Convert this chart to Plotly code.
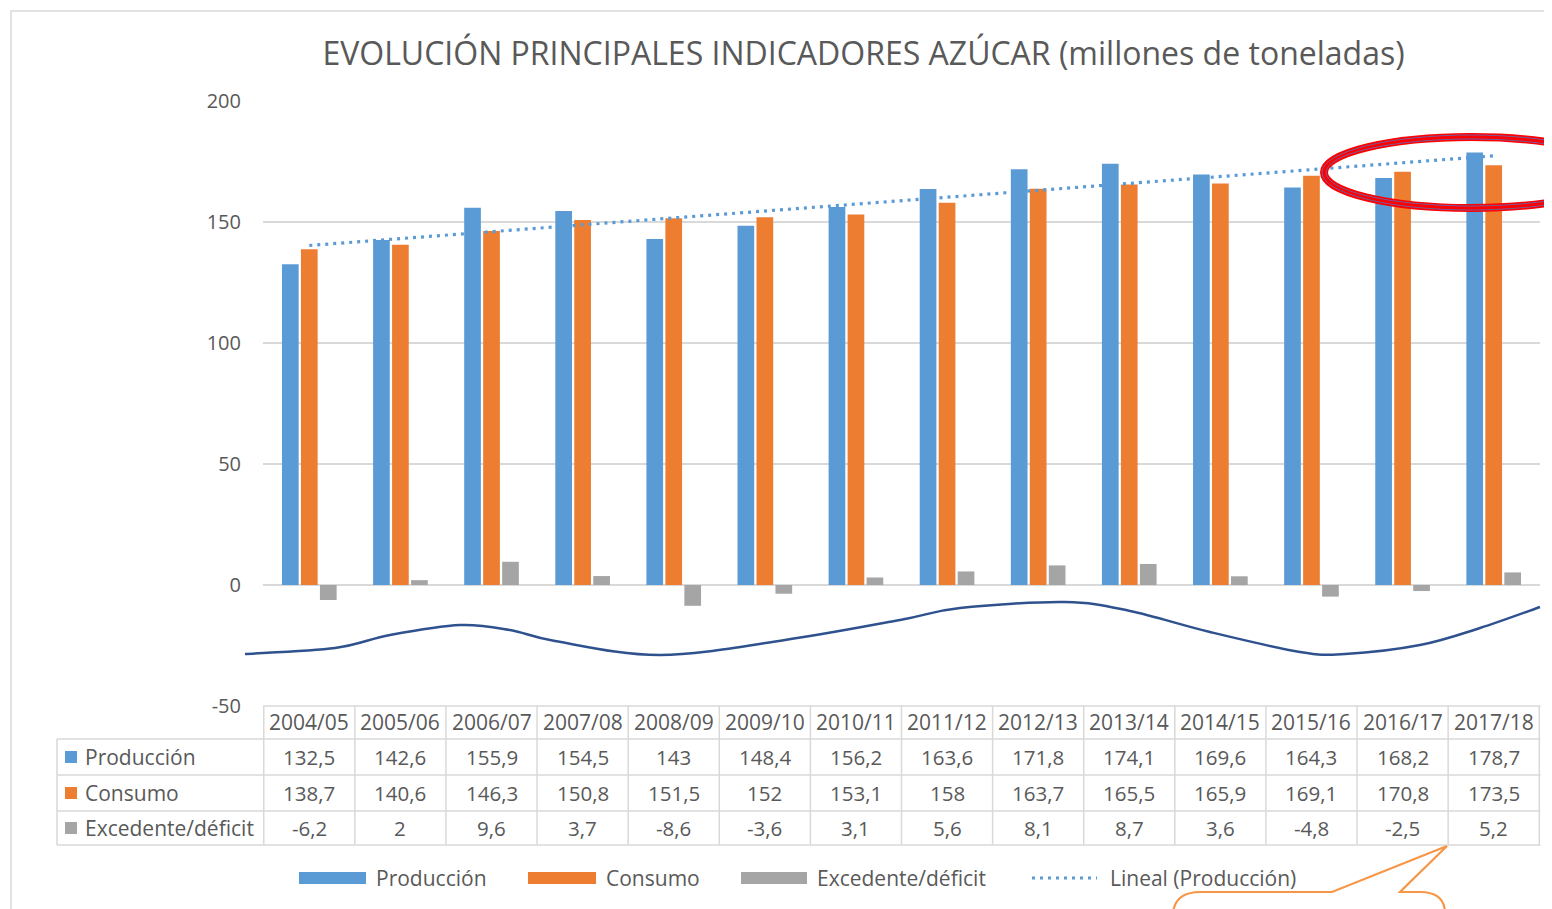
import numpy as np
import plotly.graph_objects as go

# ---------------- data ----------------
categories = ["2004/05", "2005/06", "2006/07", "2007/08", "2008/09", "2009/10", "2010/11",
              "2011/12", "2012/13", "2013/14", "2014/15", "2015/16", "2016/17", "2017/18"]
produccion = [132.5, 142.6, 155.9, 154.5, 143, 148.4, 156.2, 163.6, 171.8, 174.1, 169.6, 164.3, 168.2, 178.7]
consumo = [138.7, 140.6, 146.3, 150.8, 151.5, 152, 153.1, 158, 163.7, 165.5, 165.9, 169.1, 170.8, 173.5]
excedente = [-6.2, 2, 9.6, 3.7, -8.6, -3.6, 3.1, 5.6, 8.1, 8.7, 3.6, -4.8, -2.5, 5.2]
series_names = ["Producción", "Consumo", "Excedente/déficit"]
trend_name = "Lineal (Producción)"
title_text = "EVOLUCIÓN PRINCIPALES INDICADORES AZÚCAR (millones de toneladas)"
y_ticks = [200, 150, 100, 50, 0, -50]
y_ticktext = ["200", "150", "100", "50", "0", "-50"]

# ---------------- style ----------------
OFF = 8  # page body margin
W, H = 1552 - OFF, 909 - OFF
ML, MT = 263 - OFF, 101 - OFF
MR = W - (1540 - OFF)
MB = H - (706 - OFF)
PW, PH = W - ML - MR, H - MT - MB
BLUE, ORANGE, GRAY = "#5B9BD5", "#ED7D31", "#A5A5A5"
TXT = "#595959"
GRID = "#D9D9D9"
FONT = "Open Sans"


def px(x):
    return (x - OFF - ML) / PW


def py(y):
    return (H - MB - (y - OFF)) / PH


def fmt(v):
    return ("%g" % v).replace(".", ",")


fig = go.Figure()
for name, vals, col in zip(series_names, [produccion, consumo, excedente], [BLUE, ORANGE, GRAY]):
    fig.add_trace(go.Bar(x=categories, y=vals, name=name, marker=dict(color=col, line=dict(width=0)),
                         showlegend=False))

# linear trend (Excel "Lineal") fitted to production
idx = np.arange(1, len(categories) + 1)
slope, inter = np.polyfit(idx, produccion, 1)
trend = slope * idx + inter
fig.add_trace(go.Scatter(x=categories, y=trend, mode="lines", name=trend_name, showlegend=False,
                         line=dict(color=BLUE, width=3.2, dash="3px,5px")))

shapes = []
annotations = []

# outer chart border
shapes.append(dict(type="rect", xref="paper", yref="paper", x0=px(11), x1=px(1600), y0=py(11), y1=py(960),
                   line=dict(color=GRID, width=1.5), layer="below"))

# ---------------- data table ----------------
row_y = [722, 757, 793, 828]
for yy, x0 in [(706, 263), (739, 57), (775, 57), (811, 57), (845, 57)]:
    shapes.append(dict(type="line", xref="paper", yref="paper", x0=px(x0), x1=px(1540.5), y0=py(yy), y1=py(yy),
                       line=dict(color=GRID, width=1.5)))
shapes.append(dict(type="line", xref="paper", yref="paper", x0=px(57), x1=px(57), y0=py(739), y1=py(845),
                   line=dict(color=GRID, width=1.5)))
for k in range(len(categories) + 1):
    shapes.append(dict(type="line", xref="x", yref="paper", x0=k - 0.5, x1=k - 0.5, y0=py(706), y1=py(845),
                       line=dict(color=GRID, width=1.5)))

for c in categories:
    annotations.append(dict(x=c, xref="x", y=py(row_y[0]), yref="paper", text=c, showarrow=False,
                            font=dict(family=FONT, size=21, color=TXT), xanchor="center", yanchor="middle"))
for r, (name, vals, col) in enumerate(zip(series_names, [produccion, consumo, excedente], [BLUE, ORANGE, GRAY])):
    yy = row_y[r + 1]
    shapes.append(dict(type="rect", xref="paper", yref="paper", x0=px(65), x1=px(77), y0=py(yy - 6),
                       y1=py(yy + 6), fillcolor=col, line=dict(width=0)))
    annotations.append(dict(x=px(83), xref="paper", y=py(yy), yref="paper", text=name, showarrow=False,
                            font=dict(family=FONT, size=21, color=TXT), xanchor="left", yanchor="middle"))
    for c, v in zip(categories, vals):
        annotations.append(dict(x=c, xref="x", y=py(yy), yref="paper", text=fmt(v), showarrow=False,
                                font=dict(family=FONT, size=20.5, color=TXT), xanchor="center", yanchor="middle"))

# ---------------- legend (custom) ----------------
LY = 878
leg = [(series_names[0], BLUE, 299, 366, 374), (series_names[1], ORANGE, 528, 596, 604),
       (series_names[2], GRAY, 741, 807, 815)]
for name, col, x0, x1, xt in leg:
    shapes.append(dict(type="rect", xref="paper", yref="paper", x0=px(x0), x1=px(x1), y0=py(LY - 6),
                       y1=py(LY + 6), fillcolor=col, line=dict(width=0)))
    annotations.append(dict(x=px(xt), xref="paper", y=py(LY), yref="paper", text=name, showarrow=False,
                            font=dict(family=FONT, size=21, color=TXT), xanchor="left", yanchor="middle"))
shapes.append(dict(type="line", xref="paper", yref="paper", x0=px(1032), x1=px(1097), y0=py(LY), y1=py(LY),
                   line=dict(color=BLUE, width=3, dash="3px,5px")))
annotations.append(dict(x=px(1108), xref="paper", y=py(LY), yref="paper", text=trend_name, showarrow=False,
                        font=dict(family=FONT, size=21, color=TXT), xanchor="left", yanchor="middle"))


# ---------------- hand-drawn decorations ----------------
def smooth_path(pts):
    P = [pts[0]] + pts + [pts[-1]]
    d = "M %.5f,%.5f" % (px(pts[0][0]), py(pts[0][1]))
    for i in range(1, len(P) - 2):
        p0, p1, p2, p3 = P[i - 1], P[i], P[i + 1], P[i + 2]
        c1 = (p1[0] + (p2[0] - p0[0]) / 6, p1[1] + (p2[1] - p0[1]) / 6)
        c2 = (p2[0] - (p3[0] - p1[0]) / 6, p2[1] - (p3[1] - p1[1]) / 6)
        d += " C %.5f,%.5f %.5f,%.5f %.5f,%.5f" % (px(c1[0]), py(c1[1]), px(c2[0]), py(c2[1]),
                                                    px(p2[0]), py(p2[1]))
    return d


wave = [(245, 654), (335, 648), (390, 635), (460, 625), (510, 630), (555, 641), (660, 655), (785, 640),
        (900, 620), (960, 608), (1065, 602), (1130, 611), (1210, 632), (1300, 652), (1345, 654),
        (1420, 645), (1480, 628), (1540, 607)]
shapes.append(dict(type="path", xref="paper", yref="paper", path=smooth_path(wave),
                   line=dict(color="#2F528F", width=2.5), layer="above"))

# red ellipse
shapes.append(dict(type="circle", xref="paper", yref="paper", x0=px(1324), x1=px(1618), y0=py(137),
                   y1=py(208), line=dict(color="#FF0000", width=8), layer="above"))
for d in (-2, 2):
    shapes.append(dict(type="circle", xref="paper", yref="paper", x0=px(1324 - d), x1=px(1618 + d),
                       y0=py(137 - d), y1=py(208 + d), line=dict(color="#7A5A9A", width=1), layer="above"))

# orange callout
path = "M %.5f,%.5f" % (px(1173), py(912))
path += " Q %.5f,%.5f %.5f,%.5f" % (px(1176), py(892), px(1200), py(892))
path += " L %.5f,%.5f L %.5f,%.5f L %.5f,%.5f L %.5f,%.5f" % (px(1332), py(892), px(1447), py(846),
                                                              px(1400), py(892), px(1420), py(892))
path += " Q %.5f,%.5f %.5f,%.5f" % (px(1444), py(892), px(1445), py(912))
shapes.append(dict(type="path", xref="paper", yref="paper", path=path,
                   line=dict(color="#F79646", width=2.2), layer="above"))

fig.update_layout(
    width=W, height=H,
    margin=dict(l=ML, r=MR, t=MT, b=MB, autoexpand=False),
    paper_bgcolor="white", plot_bgcolor="white",
    barmode="group", bargap=0.375, bargroupgap=0.12,
    title=dict(text=title_text, xref="container", x=(863.5 - OFF) / W, xanchor="center",
               yref="container", y=1 - (54 - OFF) / H, yanchor="middle",
               font=dict(family=FONT, size=32, color=TXT)),
    xaxis=dict(showticklabels=False, showgrid=False, zeroline=False, showline=False, ticks=""),
    yaxis=dict(range=[-50, 200], tickvals=y_ticks, ticktext=y_ticktext, showgrid=True, gridcolor=GRID,
               gridwidth=1.5, zeroline=True, zerolinecolor=GRID, zerolinewidth=1.5, showline=False,
               ticks="outside", ticklen=17, tickcolor="rgba(0,0,0,0)",
               tickfont=dict(family=FONT, size=20, color=TXT)),
    shapes=shapes, annotations=annotations, showlegend=False,
)

fig.write_html("out.html")
